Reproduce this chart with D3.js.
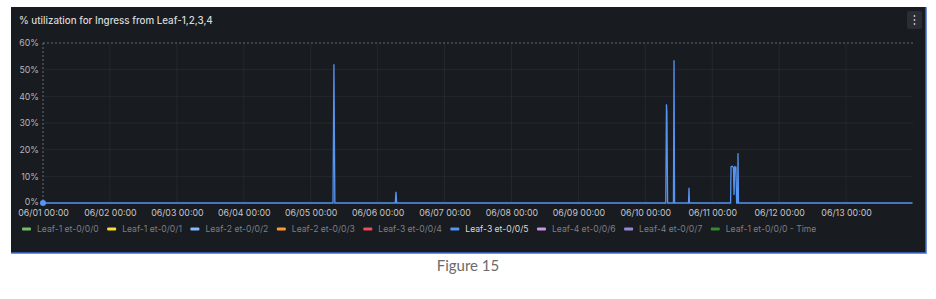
<!DOCTYPE html>
<html>
<head>
<meta charset="utf-8">
<script src="https://cdn.jsdelivr.net/npm/d3@7"></script>
<style>
  body { margin: 0; background: #fff; }
  svg { display: block; }
  text { font-family: Inter, "Noto Sans", sans-serif; }
</style>
</head>
<body>
<svg id="chart" width="936" height="299"></svg>
<script>
// series Leaf-3 et-0/0/5 (the only one visible), times and % values
var times = [
  "06/01 00:00", "06/05 08:00", "06/05 08:20", "06/05 08:40",
  "06/06 06:20", "06/06 06:35", "06/06 06:50",
  "06/10 07:20", "06/10 07:35", "06/10 07:45", "06/10 08:00",
  "06/10 10:05", "06/10 10:18", "06/10 10:30",
  "06/10 15:30", "06/10 15:40", "06/10 15:50",
  "06/11 06:35", "06/11 06:45", "06/11 07:10", "06/11 07:35", "06/11 07:50",
  "06/11 08:05", "06/11 08:30", "06/11 08:45", "06/11 09:05", "06/11 09:15", "06/11 09:25",
  "06/13 23:50"
];
var values = [
  0, 0, 52, 0,
  0, 4.2, 0,
  0, 37, 34, 0,
  0, 53.5, 0,
  0, 5.7, 0,
  0, 13.6, 13.8, 13.3, 3,
  13.6, 13.4, 0, 0, 18.7, 0,
  0
];
var yTicks = [0, 10, 20, 30, 40, 50, 60];
var xTicks = ["06/01 00:00", "06/02 00:00", "06/03 00:00", "06/04 00:00", "06/05 00:00",
  "06/06 00:00", "06/07 00:00", "06/08 00:00", "06/09 00:00", "06/10 00:00",
  "06/11 00:00", "06/12 00:00", "06/13 00:00"];
var legendNames = ["Leaf-1 et-0/0/0", "Leaf-1 et-0/0/1", "Leaf-2 et-0/0/2", "Leaf-2 et-0/0/3",
  "Leaf-3 et-0/0/4", "Leaf-3 et-0/0/5", "Leaf-4 et-0/0/6", "Leaf-4 et-0/0/7",
  "Leaf-1 et-0/0/0 - Time"];
var legendColors = ["#73BF69", "#FADE2A", "#8AB8FF", "#FF9830", "#F2495C", "#5794F2",
  "#CA95E5", "#9A86D6", "#37872D"];
var activeSeries = "Leaf-3 et-0/0/5";

var parse = d3.timeParse("%Y/%m/%d %H:%M");
function t(s) { return parse("2023/" + s); }

var svg = d3.select("#chart");

// panel
var panel = { x: 11, y: 7, w: 915, h: 246 };
svg.append("rect")
  .attr("x", panel.x).attr("y", panel.y)
  .attr("width", panel.w).attr("height", panel.h)
  .attr("fill", "#181b1f");
svg.append("path")
  .attr("d", "M" + (panel.x + panel.w) + "," + panel.y + "V" + (panel.y + panel.h) + "H" + panel.x)
  .attr("fill", "none").attr("stroke", "#3d6fd6").attr("stroke-width", 1.5);

svg.append("text")
  .attr("x", 19).attr("y", 24)
  .attr("fill", "#d8d9da").style("font-size", "9.8px").style("font-weight", 500)
  .text("% utilization for Ingress from Leaf-1,2,3,4");

// menu button
svg.append("rect").attr("x", 907).attr("y", 11).attr("width", 15).attr("height", 18)
  .attr("rx", 2).attr("fill", "#2a2d33");
[16, 20, 24].forEach(function(cy) {
  svg.append("circle").attr("cx", 914.5).attr("cy", cy).attr("r", 0.9).attr("fill", "#c7c8cc");
});

var x = d3.scaleTime().domain([t("06/01 00:00"), t("06/14 00:00")]).range([43, 913]);
var y = d3.scaleLinear().domain([0, 60]).range([203, 43]);

// grid
var grid = svg.append("g");
grid.selectAll(".hg").data(yTicks.filter(function(d) { return d > 0 && d < 60; }))
  .enter().append("line")
  .attr("x1", 43).attr("x2", 913)
  .attr("y1", function(d) { return y(d); }).attr("y2", function(d) { return y(d); })
  .attr("stroke", "rgba(204,204,220,0.07)");
grid.selectAll(".vg").data(xTicks.slice(1))
  .enter().append("line")
  .attr("x1", function(d) { return x(t(d)); }).attr("x2", function(d) { return x(t(d)); })
  .attr("y1", 43).attr("y2", 203)
  .attr("stroke", "rgba(204,204,220,0.07)");
grid.append("line").attr("x1", 43).attr("x2", 913).attr("y1", 43).attr("y2", 43)
  .attr("stroke", "rgba(204,204,220,0.45)").attr("stroke-dasharray", "2,2");
grid.append("line").attr("x1", 43).attr("x2", 43).attr("y1", 43).attr("y2", 203)
  .attr("stroke", "rgba(204,204,220,0.45)").attr("stroke-dasharray", "2,2");

// axes
var yAxis = svg.append("g").attr("transform", "translate(43,0)")
  .call(d3.axisLeft(y).tickValues(yTicks).tickSize(0).tickPadding(4)
    .tickFormat(function(d) { return d + "%"; }));
yAxis.select(".domain").remove();
yAxis.selectAll("text").attr("fill", "#b5b6bd").style("font-size", "8.8px")
  .style("font-family", "Inter, sans-serif");
yAxis.selectAll("text").filter(function(d) { return d === 0; }).attr("dy", "0.2em");

var xAxis = svg.append("g").attr("transform", "translate(0,203)")
  .call(d3.axisBottom(x).tickValues(xTicks.map(t)).tickSize(0).tickPadding(7)
    .tickFormat(d3.timeFormat("%m/%d %H:%M")));
xAxis.select(".domain").remove();
xAxis.selectAll("text").attr("fill", "#c4c5cb").style("font-size", "8.8px")
  .style("font-family", "Inter, sans-serif");

// series
var data = times.map(function(s, i) { return { t: t(s), v: values[i] }; });
var line = d3.line().x(function(d) { return x(d.t); }).y(function(d) { return y(d.v); });
svg.append("path").datum(data)
  .attr("d", line)
  .attr("fill", "none").attr("stroke", "#5794F2").attr("stroke-width", 1.3);
svg.append("circle").attr("cx", x(data[0].t)).attr("cy", y(data[0].v)).attr("r", 3)
  .attr("fill", "#5794F2");

// legend
var lx = 22, ly = 229;
legendNames.forEach(function(name, i) {
  var g = svg.append("g").attr("transform", "translate(" + lx + "," + ly + ")");
  g.append("rect").attr("x", 0).attr("y", -1.5).attr("width", 9).attr("height", 3).attr("rx", 1)
    .attr("fill", legendColors[i]);
  var txt = g.append("text").attr("x", 15).attr("y", 3.2)
    .style("font-size", "8.6px")
    .attr("fill", name === activeSeries ? "#d8d9da" : "#7d7e86")
    .text(name);
  lx += 15 + txt.node().getComputedTextLength() + 8.5;
});

// caption
svg.append("text")
  .attr("x", 468).attr("y", 271).attr("text-anchor", "middle")
  .attr("fill", "#6b6b6b").style("font-family", "Lato, sans-serif").style("font-size", "15px")
  .text("Figure 15");
</script>
</body>
</html>
